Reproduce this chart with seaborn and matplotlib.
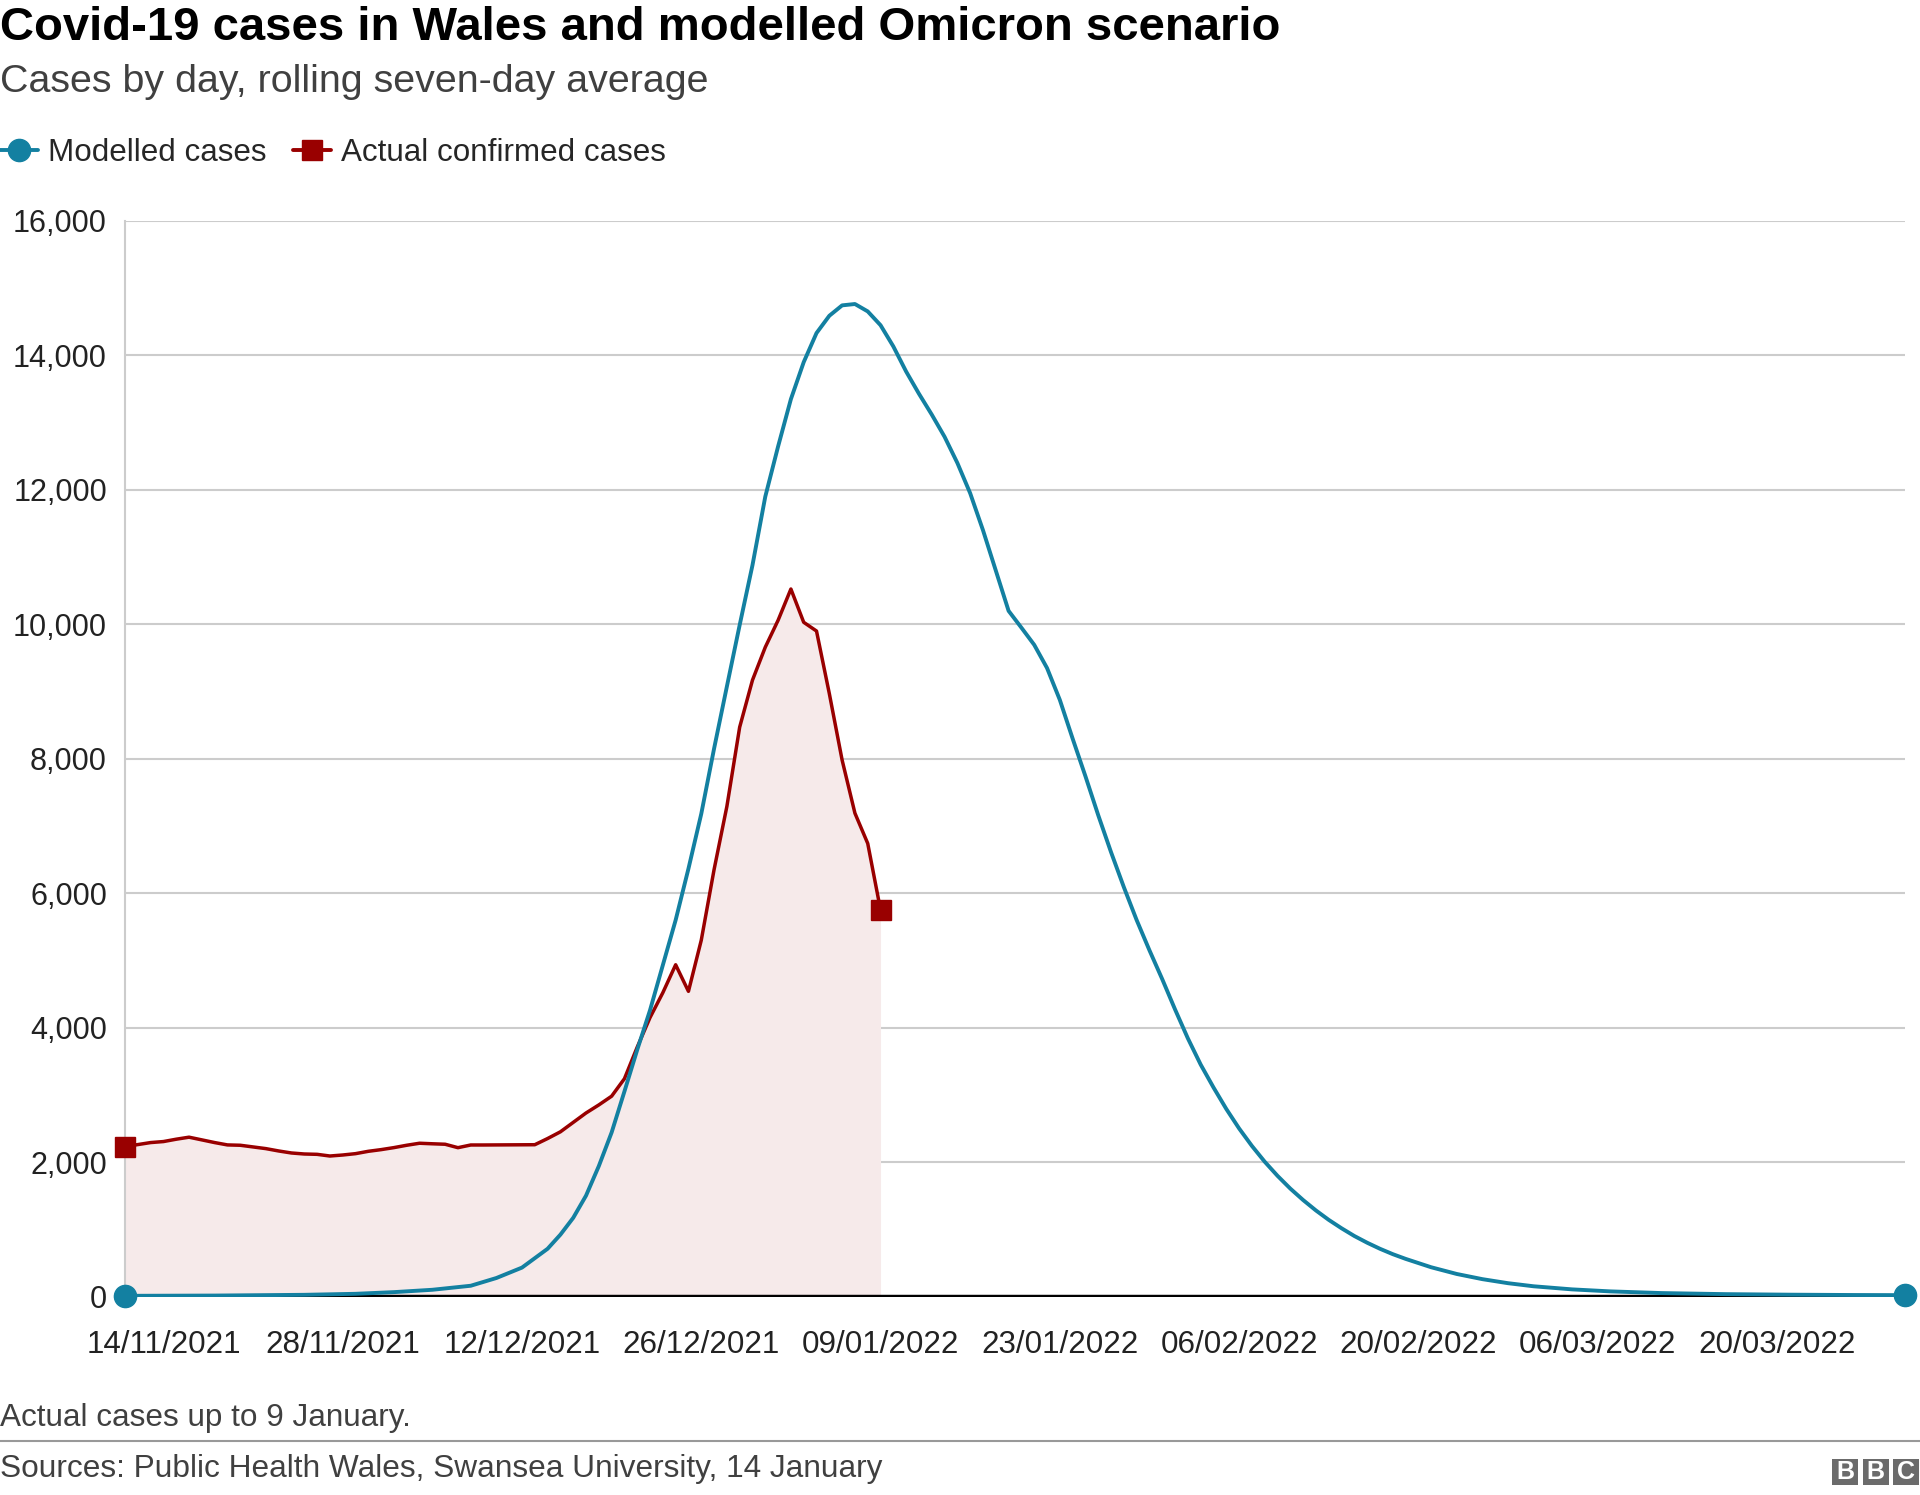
import pandas as pd
import matplotlib.pyplot as plt
import matplotlib.dates as mdates
from matplotlib.lines import Line2D
from matplotlib.patches import Rectangle
from matplotlib.ticker import FuncFormatter
import seaborn as sns

# ------------------------- Data -------------------------
start_date = "2021-11-11"

# Actual confirmed cases, rolling 7-day average, one value per day 11/11/2021 .. 09/01/2022
actual_cases = [
    2230, 2260, 2290, 2305, 2340, 2370, 2330, 2290, 2255, 2250,
    2225, 2200, 2165, 2135, 2120, 2115, 2090, 2105, 2125, 2160,
    2185, 2215, 2250, 2280, 2272, 2265, 2214, 2254, 2254, 2255,
    2256, 2257, 2258, 2350, 2450, 2590, 2730, 2850, 2980, 3240,
    3710, 4150, 4520, 4935, 4540, 5300, 6350, 7290, 8470, 9170,
    9660, 10060, 10525, 10030, 9900, 8970, 7980, 7190, 6740, 5750,
]

# Modelled Omicron scenario: day offset from start_date -> cases
modelled_day = [
    0, 7, 14, 18, 21, 24, 27, 29, 31, 33, 34, 35, 36, 37, 38, 39, 40,
    41, 42, 43, 44, 45, 46, 47, 48, 49, 50, 51, 52, 53, 54, 55, 56, 57,
    58, 59, 60, 61, 62, 63, 64, 65, 66, 67, 68, 69, 70, 71, 72, 73, 74,
    75, 76, 77, 78, 79, 80, 81, 82, 83, 84, 85, 86, 87, 88, 89, 90, 91,
    92, 93, 94, 95, 96, 97, 98, 99, 100, 102, 104, 106, 108, 110, 113,
    116, 120, 125, 130, 135, 139,
]
modelled_cases = [
    10, 14, 25, 40, 65, 100, 160, 275, 430, 710, 920, 1170, 1500, 1940, 2440, 3050, 3670,
    4260, 4930, 5600, 6365, 7180, 8150, 9074, 9990, 10880, 11900, 12646, 13350, 13900, 14333, 14590, 14745, 14765,
    14655, 14450, 14134, 13760, 13430, 13120, 12790, 12400, 11950, 11400, 10800, 10200, 9950, 9695, 9350, 8876, 8300,
    7740, 7160, 6610, 6090, 5600, 5150, 4720, 4270, 3840, 3450, 3110, 2790, 2500, 2240, 2005, 1795, 1605,
    1435, 1280, 1140, 1015, 900, 800, 710, 630, 560, 435, 335, 258, 198, 152, 106,
    76, 51, 35, 27, 22, 20,
]

tick_dates = ["2021-11-14", "2021-11-28", "2021-12-12", "2021-12-26", "2022-01-09",
              "2022-01-23", "2022-02-06", "2022-02-20", "2022-03-06", "2022-03-20"]
y_ticks = [0, 2000, 4000, 6000, 8000, 10000, 12000, 14000, 16000]

# ------------------------- Frames -------------------------
t0 = pd.Timestamp(start_date)
actual = pd.DataFrame({
    "date": pd.date_range(t0, periods=len(actual_cases), freq="D"),
    "cases": actual_cases,
})
modelled = pd.DataFrame({
    "date": t0 + pd.to_timedelta(modelled_day, unit="D"),
    "cases": modelled_cases,
})

BLUE = "#1380a1"
RED = "#990000"
PINK = "#f6eaea"

sns.set_style("white")
plt.rcParams["font.family"] = ["Liberation Sans", "DejaVu Sans"]

W, H = 1920, 1495
fig = plt.figure(figsize=(W / 100, H / 100), dpi=100)
ax = fig.add_axes([125 / W, 1 - 1296.5 / H, (1905 - 125) / W, (1296.5 - 221) / H])

# shaded area under actual cases
ax.fill_between(actual["date"], 0, actual["cases"], color=PINK, lw=0, zorder=1)

sns.lineplot(data=actual, x="date", y="cases", color=RED, lw=2.5, ax=ax, zorder=4)
sns.lineplot(data=modelled, x="date", y="cases", color=BLUE, lw=2.8, ax=ax, zorder=5)

# end markers
ax.plot(actual["date"].iloc[[0, -1]], actual["cases"].iloc[[0, -1]], ls="none",
        marker="s", ms=15, color=RED, zorder=6, clip_on=False)
ax.plot(modelled["date"].iloc[[0, -1]], modelled["cases"].iloc[[0, -1]], ls="none",
        marker="o", ms=16, color=BLUE, zorder=7, clip_on=False)

ax.axhline(0, color="black", lw=3.2, zorder=3)

ax.set_xlim(modelled["date"].iloc[0], modelled["date"].iloc[-1])
ax.set_ylim(0, 16000)
ax.set_xticks(pd.to_datetime(tick_dates))
ax.xaxis.set_major_formatter(mdates.DateFormatter("%d/%m/%Y"))
ax.set_yticks(y_ticks)
ax.yaxis.set_major_formatter(FuncFormatter(lambda v, p: f"{int(v):,}"))
ax.tick_params(axis="x", length=0, pad=24, labelsize=22.6, labelcolor="#222222")
ax.tick_params(axis="y", length=0, pad=13, labelsize=22, labelcolor="#222222")
ax.set_xlabel("")
ax.set_ylabel("")
ax.yaxis.grid(True, color="#cccccc", lw=1.5, zorder=0)
ax.set_axisbelow(True)
for side in ["top", "right", "bottom"]:
    ax.spines[side].set_visible(False)
ax.spines["left"].set_color("#cccccc")
ax.spines["left"].set_linewidth(1.5)

# ------------------------- Titles / legend -------------------------
fig.text(0.0, 1 - 28 / H, "Covid-19 cases in Wales and modelled Omicron scenario",
         fontsize=34, fontweight="bold", color="black", va="center", ha="left")
fig.text(0.0, 1 - 82 / H, "Cases by day, rolling seven-day average",
         fontsize=28.4, color="#404040", va="center", ha="left")

handles = [
    Line2D([0], [0], color=BLUE, lw=2.8, marker="o", ms=16, label="Modelled cases"),
    Line2D([0], [0], color=RED, lw=2.8, marker="s", ms=15, label="Actual confirmed cases"),
]
fig.legend(handles=handles, loc="center left", bbox_to_anchor=(0.0, 1 - 153 / H),
           ncol=2, frameon=False, fontsize=22.6, handlelength=1.22, handletextpad=0.3,
           columnspacing=0.85, borderaxespad=0, borderpad=0)

# ------------------------- Footer -------------------------
fig.text(0.0, 1 - 1418 / H, "Actual cases up to 9 January.", fontsize=22.7,
         color="#404040", va="center", ha="left")
fig.add_artist(Line2D([0, 1], [1 - 1441 / H] * 2, transform=fig.transFigure,
                      color="#999999", lw=1.5))
fig.text(0.0, 1 - 1469 / H, "Sources: Public Health Wales, Swansea University, 14 January",
         fontsize=22.8, color="#404040", va="center", ha="left")

for i, letter in enumerate("BBC"):
    x0 = 1832 + i * 30.5
    fig.add_artist(Rectangle((x0 / W, 1 - 1485 / H), 26 / W, 26 / H,
                             transform=fig.transFigure, color="#6b6b6b", lw=0))
    fig.text((x0 + 13) / W, 1 - 1472 / H, letter, fontsize=18, fontweight="bold",
             color="white", ha="center", va="center")

fig.savefig("out.png", dpi=100)
plt.close(fig)
